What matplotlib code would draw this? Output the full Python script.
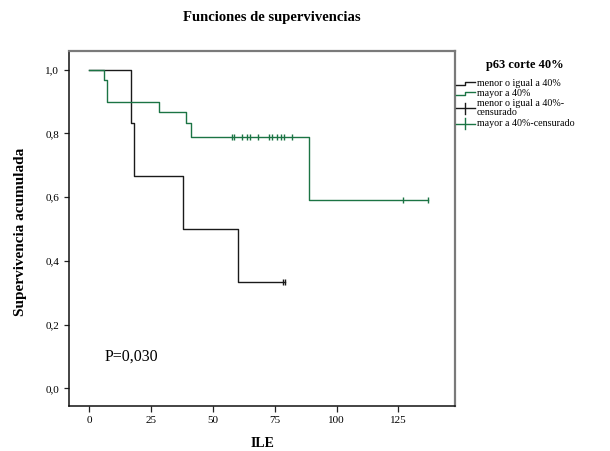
import numpy as np
import matplotlib
matplotlib.use("Agg")
import matplotlib.pyplot as plt
from matplotlib.lines import Line2D

plt.rcParams['font.family'] = ['Liberation Serif', 'DejaVu Serif']

# ---- data ----
grp1_label = "menor o igual a 40%"
grp1_times = [0, 17, 18, 38, 60]
grp1_surv = [1.0, 0.833, 0.667, 0.5, 0.333]
grp1_end = 79
grp1_censored = [78.2, 79.0]

grp2_label = "mayor a 40%"
grp2_times = [0, 6, 7, 28, 39, 41, 89]
grp2_surv = [1.0, 0.967, 0.9, 0.867, 0.833, 0.79, 0.59]
grp2_end = 137
grp2_censored = [57.8, 58.6, 61.9, 63.7, 64.9, 68.1, 72.8, 73.8, 75.9,
                 77.5, 78.6, 82.0, 127.0, 137.0]

xticks = [0, 25, 50, 75, 100, 125]
yticks = [0.0, 0.2, 0.4, 0.6, 0.8, 1.0]
ytick_labels = ["0,0", "0,2", "0,4", "0,6", "0,8", "1,0"]

title = "Funciones de supervivencias"
xlabel = "ILE"
ylabel = "Supervivencia acumulada"
legend_title = "p63 corte 40%"
p_text = "P=0,030"

c_black = '#1a1a1a'
c_green = '#1b7444'

W, H = 610, 451


def surv_at(times, surv, t):
    idx = np.searchsorted(np.asarray(times), t, side='right') - 1
    return np.asarray(surv)[idx]


def fx(x):
    return x / W


def fy(y):
    return 1 - y / H


fig = plt.figure(figsize=(W / 100, H / 100), dpi=100)
ax = fig.add_axes([fx(69), fy(406), (455 - 69) / W, (406 - 51) / H])

for times, surv, end, cens, col in [
        (grp1_times, grp1_surv, grp1_end, grp1_censored, c_black),
        (grp2_times, grp2_surv, grp2_end, grp2_censored, c_green)]:
    xs = list(times) + [end]
    ys = list(surv) + [surv[-1]]
    ax.step(xs, ys, where='post', color=c_black if col == c_black else col,
            lw=1.0)
    cy = surv_at(times, surv, cens)
    ax.plot(cens, cy, linestyle='none', marker='|', markersize=5,
            markeredgewidth=1.0, color=col)

ax.text(6, 0.1, p_text, fontsize=11.5, ha='left', va='center')

ax.set_xlim(-8.2, 147.9)
ax.set_ylim(-0.0556, 1.0587)
ax.set_xticks(xticks)
ax.set_yticks(yticks)
ax.set_yticklabels(ytick_labels)
ax.tick_params(axis='both', direction='out', labelsize=8, width=0.9,
               color='#222222')
ax.tick_params(axis='y', length=3.5, pad=3.5)
ax.tick_params(axis='x', length=4.5, pad=3)

for s in ['left', 'bottom']:
    ax.spines[s].set_color('#111111')
    ax.spines[s].set_linewidth(1.1)
for s in ['top', 'right']:
    ax.spines[s].set_color('#7a7a7a')
    ax.spines[s].set_linewidth(1.6)

ax.set_xlabel(xlabel, fontsize=10, fontweight='bold')
ax.xaxis.set_label_coords(0.5, -0.088)
ax.set_ylabel(ylabel, fontsize=11, fontweight='bold')
ax.yaxis.set_label_coords(-0.108, 0.49)

fig.text(fx(272), fy(17), title, fontsize=10.5, fontweight='bold',
         ha='center', va='center')

# ---- legend (placed outside the plot, at the right) ----
fig.text(fx(525), fy(65), legend_title, fontsize=9, fontweight='bold',
         ha='center', va='center')

leg_fs = 7.2
hx0, hx1, hxm, tx = 456, 475, 465, 477

# step handles
for yc, col, lab in [(83.5, c_black, grp1_label), (93.5, c_green, grp2_label)]:
    fig.add_artist(Line2D([fx(hx0), fx(hxm), fx(hxm), fx(hx1)],
                          [fy(yc + 1.5), fy(yc + 1.5), fy(yc - 1.5), fy(yc - 1.5)],
                          color=col, lw=1.0, transform=fig.transFigure))
    fig.text(fx(tx), fy(yc), lab, fontsize=leg_fs, ha='left', va='center')

# censored handles
for yc, col, lab in [(108, c_black, grp1_label + "-\ncensurado"),
                     (123.5, c_green, grp2_label + "-censurado")]:
    fig.add_artist(Line2D([fx(hx0), fx(hx1)], [fy(yc), fy(yc)],
                          color=col, lw=1.0, transform=fig.transFigure))
    fig.add_artist(Line2D([fx(hxm), fx(hxm)], [fy(yc - 5.5), fy(yc + 5.5)],
                          color=col, lw=1.0, transform=fig.transFigure))
    fig.text(fx(tx), fy(yc), lab, fontsize=leg_fs, ha='left', va='center',
             linespacing=1.05)

fig.savefig("out.png", dpi=100)
